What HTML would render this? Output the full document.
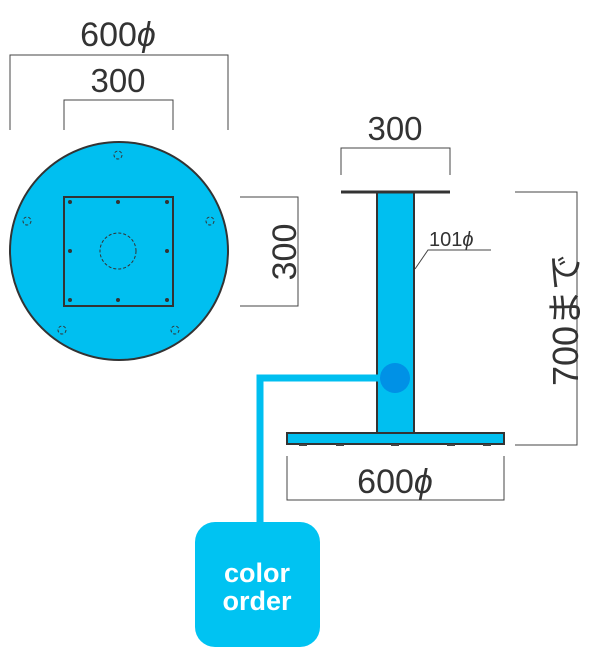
<!DOCTYPE html>
<html><head><meta charset="utf-8"><style>
html,body{margin:0;padding:0;background:#fff;width:600px;height:663px;overflow:hidden}
svg{display:block}
text{font-family:"Liberation Sans","Noto Sans CJK JP",sans-serif;fill:#333}
</style></head><body>
<svg width="600" height="663" viewBox="0 0 600 663" xmlns="http://www.w3.org/2000/svg">
<g stroke="#444" stroke-width="1" fill="none">
<polyline points="10,130 10,55 228,55 228,130"/>
<polyline points="64,130 64,100 173,100 173,130"/>
<polyline points="240,197 298,197 298,306 240,306"/>
<polyline points="341,175 341,148 450,148 450,175"/>
<polyline points="515,192 577,192 577,445 515,445"/>
<polyline points="287,456 287,500 504,500 504,456"/>
</g>
<text x="118" y="46" font-size="34" text-anchor="middle">600<tspan font-style="italic">ϕ</tspan></text>
<text x="118" y="92" font-size="33" text-anchor="middle">300</text>
<text x="395" y="140" font-size="33" text-anchor="middle">300</text>
<text x="395" y="493" font-size="34" text-anchor="middle">600<tspan font-style="italic">ϕ</tspan></text>
<text transform="translate(296,252) rotate(-90)" font-size="34" text-anchor="middle">300</text>
<text transform="translate(578,320) rotate(-90)" font-size="36" text-anchor="middle">700まで</text>
<text x="429" y="246" font-size="20">101<tspan font-style="italic">ϕ</tspan></text>
<polyline points="415,269 428,250 491,250" stroke="#444" stroke-width="1" fill="none"/>
<circle cx="119" cy="251" r="109" fill="#00bff0" stroke="#333" stroke-width="2"/>
<rect x="64" y="197" width="109" height="109" fill="none" stroke="#333" stroke-width="2"/>
<g fill="#333">
<circle cx="70" cy="202" r="2"/><circle cx="118" cy="202" r="2"/><circle cx="167" cy="202" r="2"/>
<circle cx="70" cy="251" r="2"/><circle cx="167" cy="251" r="2"/>
<circle cx="70" cy="300" r="2"/><circle cx="118" cy="300" r="2"/><circle cx="167" cy="300" r="2"/>
</g>
<g fill="none" stroke="#333" stroke-width="1" stroke-dasharray="3,2">
<circle cx="118" cy="251" r="18"/>
<circle cx="118" cy="155" r="4"/><circle cx="27" cy="221" r="4"/><circle cx="210" cy="221" r="4"/>
<circle cx="62" cy="330" r="4"/><circle cx="175" cy="330" r="4"/>
</g>
<rect x="377" y="192" width="37" height="241" fill="#00bff0" stroke="#333" stroke-width="2"/>
<line x1="341" y1="192" x2="450" y2="192" stroke="#333" stroke-width="3"/>
<rect x="287" y="433" width="217" height="11" fill="#00bff0" stroke="#333" stroke-width="2"/>
<g fill="#444">
<rect x="299" y="444" width="8" height="2"/><rect x="336" y="444" width="8" height="2"/>
<rect x="391" y="444" width="8" height="2"/><rect x="447" y="444" width="8" height="2"/><rect x="483" y="444" width="8" height="2"/>
</g>
<polyline points="395,378 260,378 260,524" stroke="#00bff0" stroke-width="7" fill="none"/>
<circle cx="395" cy="378" r="15" fill="#0091e6"/>
<rect x="195" y="522" width="125" height="125" rx="20" fill="#00c3f2"/>
<text x="257" y="582" font-size="27" font-weight="bold" text-anchor="middle" style="fill:#fff">color</text>
<text x="257" y="610" font-size="27" font-weight="bold" text-anchor="middle" style="fill:#fff">order</text>
</svg>
</body></html>
